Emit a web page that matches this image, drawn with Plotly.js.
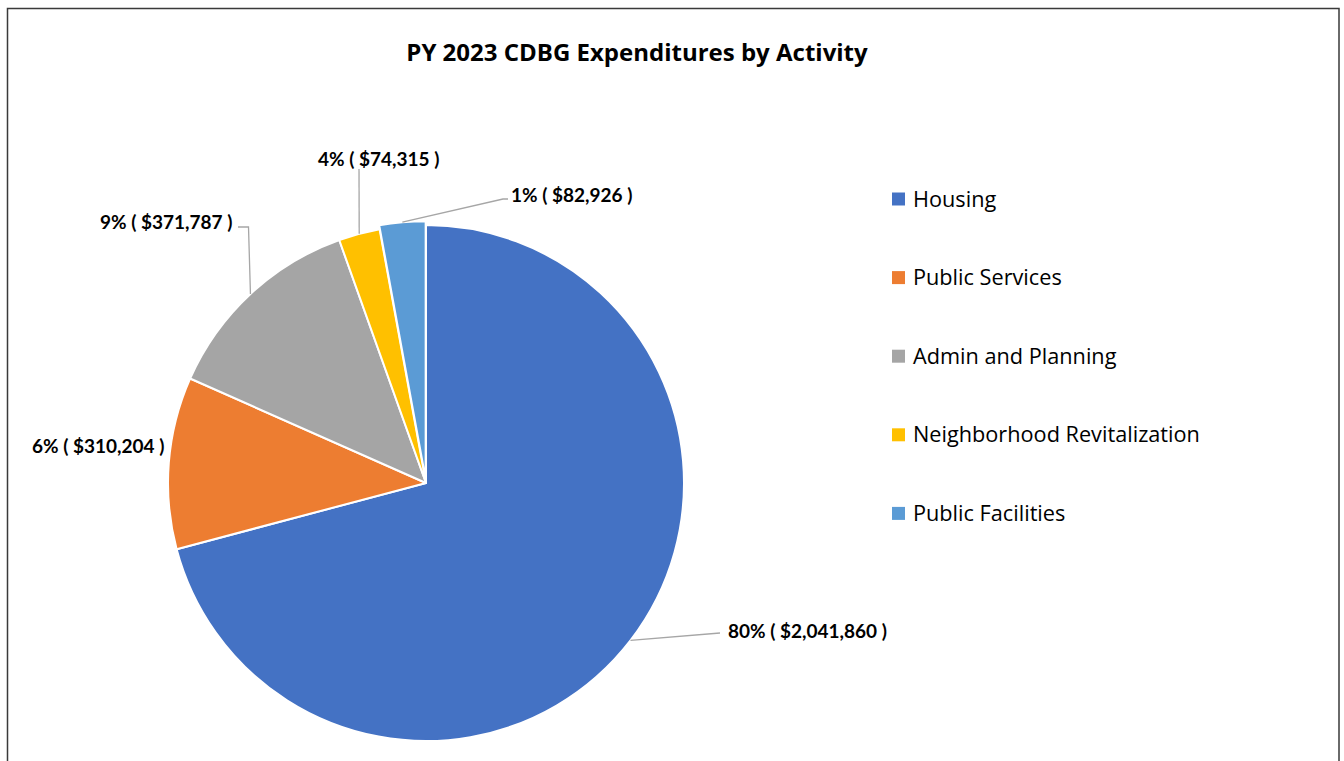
<!DOCTYPE html>
<html>
<head>
<meta charset="utf-8">
<script src="https://cdn.plot.ly/plotly-3.0.1.min.js"></script>
<style>html,body{margin:0;padding:0;background:#fff;}#chart{width:1344px;height:761px;}</style>
</head>
<body>
<div id="chart"></div>
<script>
// ---- data ----
const categories = ['Housing', 'Public Services', 'Admin and Planning', 'Neighborhood Revitalization', 'Public Facilities'];
const amounts = [2041860, 310204, 371787, 74315, 82926];
const pctLabels = ['80%', '6%', '9%', '4%', '1%'];
const colors = ['#4472C4', '#ED7D31', '#A5A5A5', '#FFC000', '#5B9BD5'];
const pulls = [0, 0, 0, 0, 0.015];

// ---- layout constants (pixels) ----
const W = 1344, H = 761;
const PIE_CX = 426, PIE_CY = 483, PIE_R = 258;
const FONT = "Lato, 'Open Sans', sans-serif";
const FONT2 = "'Open Sans', Lato, sans-serif";
const px = x => x / W;
const py = y => 1 - y / H;

// label placement per slice: text anchor point and leader-line elbows (pixels)
const labelPlace = [
  {x: 726, y: 630, xanchor: 'left',   elbows: [[720, 633]]},
  {x: 166, y: 445, xanchor: 'right',  elbows: null},
  {x: 234, y: 221, xanchor: 'right',  elbows: [[248.5, 227], [238, 227]]},
  {x: 378, y: 158, xanchor: 'center', elbows: [[359, 169]]},
  {x: 509, y: 195, xanchor: 'left',   elbows: [[503, 199], [508, 199]]}
];

const total = amounts.reduce((a, b) => a + b, 0);
const maxPull = Math.max.apply(null, pulls);
const fmt = v => '$' + v.toLocaleString('en-US');

const annotations = [];
const shapes = [];

// slice labels and leader lines
let cum = 0;
amounts.forEach((v, i) => {
  const frac = v / total;
  const mid = (cum + frac / 2) * 2 * Math.PI;
  cum += frac;
  const r = PIE_R * (1 + pulls[i]);
  const ex = PIE_CX + r * Math.sin(mid);
  const ey = PIE_CY - r * Math.cos(mid);
  const lp = labelPlace[i];
  annotations.push({
    xref: 'paper', yref: 'paper', x: px(lp.x), y: py(lp.y),
    xanchor: lp.xanchor, yanchor: 'middle', showarrow: false,
    text: '<b>' + pctLabels[i] + ' ( ' + fmt(v) + ' )</b>',
    font: {family: FONT, size: 19, color: '#000'}
  });
  if (lp.elbows) {
    let path = 'M' + px(ex) + ',' + py(ey);
    lp.elbows.forEach(p => { path += ' L' + px(p[0]) + ',' + py(p[1]); });
    shapes.push({type: 'path', xref: 'paper', yref: 'paper', path: path,
      line: {color: '#A6A6A6', width: 1.3}});
  }
});

// manual legend
const LEG_X = 892, LEG_Y0 = 199, LEG_DY = 78.6, SQ = 13;
categories.forEach((c, i) => {
  const cy = LEG_Y0 + i * LEG_DY;
  shapes.push({type: 'rect', xref: 'paper', yref: 'paper',
    x0: px(LEG_X), x1: px(LEG_X + SQ), y0: py(cy - SQ / 2), y1: py(cy + SQ / 2),
    fillcolor: colors[i], line: {width: 0}});
  annotations.push({xref: 'paper', yref: 'paper', x: px(911), y: py(cy - 1),
    xanchor: 'left', yanchor: 'middle', showarrow: false, text: c,
    font: {family: FONT2, size: 21.7, color: '#000'}});
});

// chart border (left, top, right)
shapes.push({type: 'path', xref: 'paper', yref: 'paper',
  path: 'M' + px(7.5) + ',' + py(770) + ' L' + px(7.5) + ',' + py(8.5) + ' L' + px(1339) + ',' + py(8.5) + ' L' + px(1339) + ',' + py(770),
  line: {color: '#3a3a3a', width: 1.5}});

// Plotly shrinks the pie by (1 + max pull); enlarge the domain to compensate
const DR = PIE_R * (1 + maxPull);
const trace = {
  type: 'pie',
  labels: categories,
  values: amounts,
  sort: false,
  direction: 'clockwise',
  rotation: 0,
  pull: pulls,
  textinfo: 'none',
  hoverinfo: 'label+value+percent',
  marker: {colors: colors, line: {color: '#ffffff', width: 2}},
  domain: {x: [px(PIE_CX - DR), px(PIE_CX + DR)], y: [py(PIE_CY + DR), py(PIE_CY - DR)]},
  showlegend: false
};

const layout = {
  width: W, height: H,
  margin: {l: 0, r: 0, t: 0, b: 0},
  paper_bgcolor: '#fff',
  showlegend: false,
  title: {text: '<b>PY 2023 CDBG Expenditures by Activity</b>', x: px(637), xanchor: 'center',
    y: py(53), yanchor: 'middle', yref: 'container', font: {family: FONT2, size: 24, color: '#000'}},
  annotations: annotations,
  shapes: shapes
};

Plotly.newPlot('chart', [trace], layout, {displayModeBar: false, staticPlot: true});
</script>
</body>
</html>
